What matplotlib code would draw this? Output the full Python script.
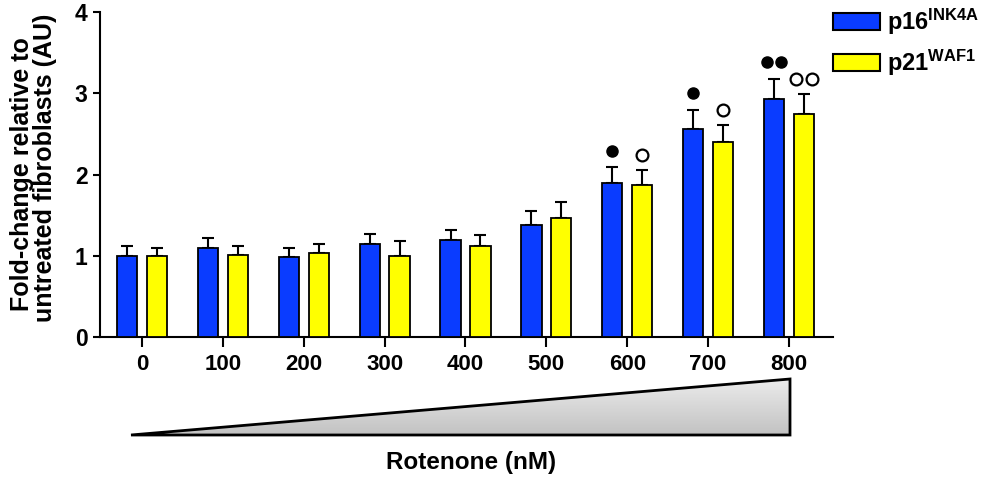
import numpy as np
import matplotlib
matplotlib.use("Agg")
import matplotlib.pyplot as plt
from matplotlib.patches import Polygon, Rectangle

plt.rcParams['font.family'] = ['Liberation Sans', 'DejaVu Sans']
plt.rcParams['font.weight'] = 'bold'
plt.rcParams['mathtext.fontset'] = 'custom'
plt.rcParams['mathtext.rm'] = 'Liberation Sans:bold'
plt.rcParams['mathtext.bf'] = 'Liberation Sans:bold'

# data
doses = ["0", "100", "200", "300", "400", "500", "600", "700", "800"]
p16_mean = [1.00, 1.09, 0.99, 1.14, 1.19, 1.38, 1.90, 2.56, 2.93]
p16_err = [0.12, 0.13, 0.11, 0.13, 0.13, 0.17, 0.19, 0.24, 0.25]
p21_mean = [1.00, 1.01, 1.03, 1.00, 1.12, 1.47, 1.87, 2.40, 2.74]
p21_err = [0.10, 0.11, 0.12, 0.18, 0.14, 0.19, 0.19, 0.21, 0.25]
p16_sig = [0, 0, 0, 0, 0, 0, 1, 1, 2]
p21_sig = [0, 0, 0, 0, 0, 0, 1, 1, 2]
ylabel_lines = ["Fold-change relative to", "untreated fibroblasts (AU)"]

blue = "#0a3cff"
yellow = "#ffff00"

fig = plt.figure(figsize=(9.92, 4.78), dpi=100)
ax = fig.add_axes([100/992, 1-337/478, 733/992, 325/478])

x = np.arange(len(doses))
off = 0.185
w = 0.25

ax.bar(x - off, p16_mean, w, color=blue, edgecolor="black", linewidth=1.3, zorder=3)
ax.bar(x + off, p21_mean, w, color=yellow, edgecolor="black", linewidth=1.3, zorder=3)
ax.errorbar(x - off, p16_mean, yerr=[np.zeros(len(x)), p16_err], fmt="none",
            ecolor="black", elinewidth=1.5, capsize=4.5, capthick=1.5, zorder=2)
ax.errorbar(x + off, p21_mean, yerr=[np.zeros(len(x)), p21_err], fmt="none",
            ecolor="black", elinewidth=1.5, capsize=4.5, capthick=1.5, zorder=2)

# significance markers above the error bars
for i in range(len(x)):
    n = p16_sig[i]
    if n:
        xs = x[i] - off + (np.arange(n) - (n - 1) / 2) * 0.18
        ax.plot(xs, [p16_mean[i] + p16_err[i] + 0.2] * n, "o", color="black",
                markersize=8, clip_on=False, zorder=4)
    n = p21_sig[i]
    if n:
        xs = x[i] + off + (np.arange(n) - (n - 1) / 2) * 0.2
        ax.plot(xs, [p21_mean[i] + p21_err[i] + 0.18] * n, "o", mfc="white",
                mec="black", mew=1.6, markersize=8.5, clip_on=False, zorder=4)

ax.set_xlim(-0.519, 8.544)
ax.set_ylim(0, 4)
ax.set_xticks(x)
ax.set_xticklabels(doses)
ax.set_yticks([0, 1, 2, 3, 4])
ax.spines["top"].set_visible(False)
ax.spines["right"].set_visible(False)
ax.spines["left"].set_linewidth(1.5)
ax.spines["bottom"].set_linewidth(1.5)
ax.tick_params(axis="x", length=7, width=1.5, labelsize=16, pad=5)
ax.tick_params(axis="y", length=5, width=1.5, labelsize=16.5, pad=4)
for lab in ax.get_xticklabels() + ax.get_yticklabels():
    lab.set_fontweight("bold")

# y label, two lines placed separately for tighter spacing
fig.text(22/992, 1-174/478, ylabel_lines[0], rotation=90, ha="center",
         va="center", fontsize=18, fontweight="bold")
fig.text(45/992, 1-168/478, ylabel_lines[1], rotation=90, ha="center",
         va="center", fontsize=18, fontweight="bold")

# legend
handles = [Rectangle((0, 0), 1, 1, facecolor=blue, edgecolor="black", linewidth=1.5),
           Rectangle((0, 0), 1, 1, facecolor=yellow, edgecolor="black", linewidth=1.5)]
labels = [r"$\mathbf{p16^{INK4A}}$", r"$\mathbf{p21^{WAF1}}$"]
fig.legend(handles, labels, loc="upper left", bbox_to_anchor=(828/992, 1-2/478),
           frameon=False, fontsize=17, handlelength=2.0, handleheight=0.75,
           handletextpad=0.3, labelspacing=0.45, borderaxespad=0, borderpad=0.2)

# rotenone gradient triangle
tax = fig.add_axes([131/992, 1-435/478, 659/992, 56/478])
tax.set_xlim(0, 1)
tax.set_ylim(0, 1)
tax.axis("off")
grad = np.linspace(0.76, 0.92, 256).reshape(-1, 1)
im = tax.imshow(grad, cmap="gray", vmin=0, vmax=1, extent=[0, 1, 0, 1],
                aspect="auto", origin="lower")
tri = Polygon([[0, 0], [1, 0], [1, 1]], closed=True, facecolor="none",
              edgecolor="black", linewidth=2, clip_on=False)
tax.add_patch(tri)
im.set_clip_path(tri)

fig.text(471/992, 1-462/478, "Rotenone (nM)", ha="center", va="center",
         fontsize=17.5, fontweight="bold")

fig.savefig("out.png", dpi=100)
